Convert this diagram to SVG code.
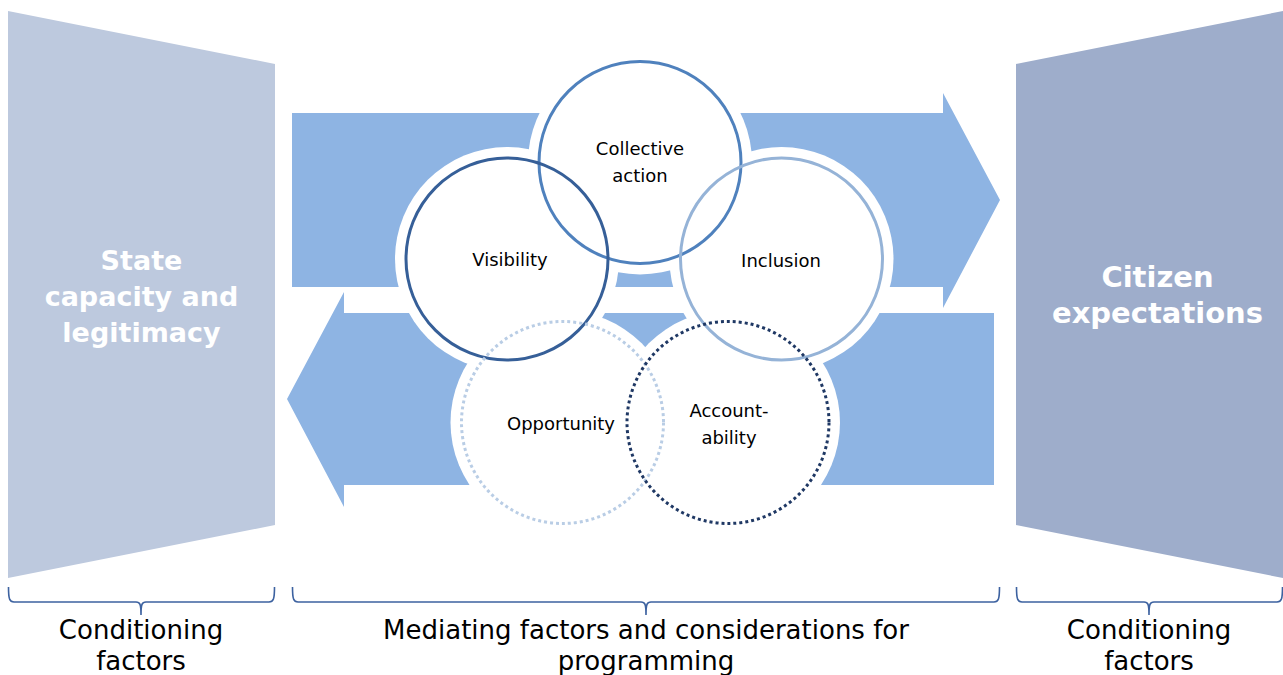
<svg xmlns="http://www.w3.org/2000/svg" width="1283" height="675" viewBox="0 0 1283 675">
<style>
.lbl{font-family:"DejaVu Sans","Verdana",sans-serif;font-size:18px;fill:#000;text-anchor:middle}
.big{font-family:"DejaVu Sans","Verdana",sans-serif;font-weight:bold;fill:#fff;text-anchor:middle}
.cap{font-family:"DejaVu Sans","Verdana",sans-serif;font-size:26px;fill:#000;text-anchor:middle}
.arrow{fill:#8EB4E3}
.halo{fill:#fff}
.ring{fill:none;stroke-width:3}
.brace{fill:none;stroke:#3D62A0;stroke-width:1.6}
</style>
<rect width="1283" height="675" fill="#fff"/>
<g id="state-capacity">
<polygon points="8,11 275,64 275,525 8,578" fill="#BDC9DE"/>
<text class="big" font-size="27" x="141.5" y="270">State</text>
<text class="big" font-size="27" x="141.5" y="306">capacity and</text>
<text class="big" font-size="27" x="141.5" y="342">legitimacy</text>
</g>
<g id="citizen-expectations">
<polygon points="1016,64 1283,11 1283,578 1016,525" fill="#9EADCB"/>
<text class="big" font-size="29" x="1157.5" y="287">Citizen</text>
<text class="big" font-size="29" x="1157.5" y="323">expectations</text>
</g>
<g id="connectors">
<polygon class="arrow" points="292,113 943,113 943,93 1000,200 943,308 943,287 292,287"/>
<polygon class="arrow" points="994,313 344,313 344,292 287,399 344,507 344,485 994,485"/>
</g>
<g id="halos">
<circle class="halo" cx="640" cy="162.5" r="112"/>
<circle class="halo" cx="507" cy="259" r="112"/>
<circle class="halo" cx="781.5" cy="259" r="112"/>
<circle class="halo" cx="562.5" cy="422.5" r="112"/>
<circle class="halo" cx="728" cy="422.5" r="112"/>
</g>
<g id="collective-action">
<circle class="ring" cx="640" cy="162.5" r="101" stroke="#4F81BD"/>
<text class="lbl" x="640" y="155">Collective</text>
<text class="lbl" x="640" y="182">action</text>
</g>
<g id="visibility">
<circle class="ring" cx="507" cy="259" r="101" stroke="#365F98" stroke-width="3.5"/>
<text class="lbl" x="510" y="266">Visibility</text>
</g>
<g id="inclusion">
<circle class="ring" cx="781.5" cy="259" r="101" stroke="#95B3D7"/>
<text class="lbl" x="781" y="267">Inclusion</text>
</g>
<g id="opportunity">
<circle class="ring" cx="562.5" cy="422.5" r="101" stroke="#B9CDE5" stroke-dasharray="3 3"/>
<text class="lbl" x="561" y="430">Opportunity</text>
</g>
<g id="accountability">
<circle class="ring" cx="728" cy="422.5" r="101" stroke="#1F3864" stroke-dasharray="3 3"/>
<text class="lbl" x="729" y="417">Account-</text>
<text class="lbl" x="729" y="444">ability</text>
</g>
<g id="brace-left">
<path class="brace" d="M8.5,587 C8.5,599 9.5,602 14,602 H136 C140,602 141,604 141,615 C141,604 142,602 146,602 H269 C273.5,602 274.5,599 274.5,587"/>
<text class="cap" x="141" y="639">Conditioning</text>
<text class="cap" x="141" y="670">factors</text>
</g>
<g id="brace-middle">
<path class="brace" d="M292.5,587 C292.5,599 293.5,602 298,602 H641 C645,602 646,604 646,615 C646,604 647,602 651,602 H994 C998.5,602 999.5,599 999.5,587"/>
<text class="cap" x="646" y="639">Mediating factors and considerations for</text>
<text class="cap" x="646" y="670">programming</text>
</g>
<g id="brace-right">
<path class="brace" d="M1016.5,587 C1016.5,599 1017.5,602 1022,602 H1144 C1148,602 1149,604 1149,615 C1149,604 1150,602 1154,602 H1277 C1281.5,602 1282.5,599 1282.5,587"/>
<text class="cap" x="1149" y="639">Conditioning</text>
<text class="cap" x="1149" y="670">factors</text>
</g>
</svg>
